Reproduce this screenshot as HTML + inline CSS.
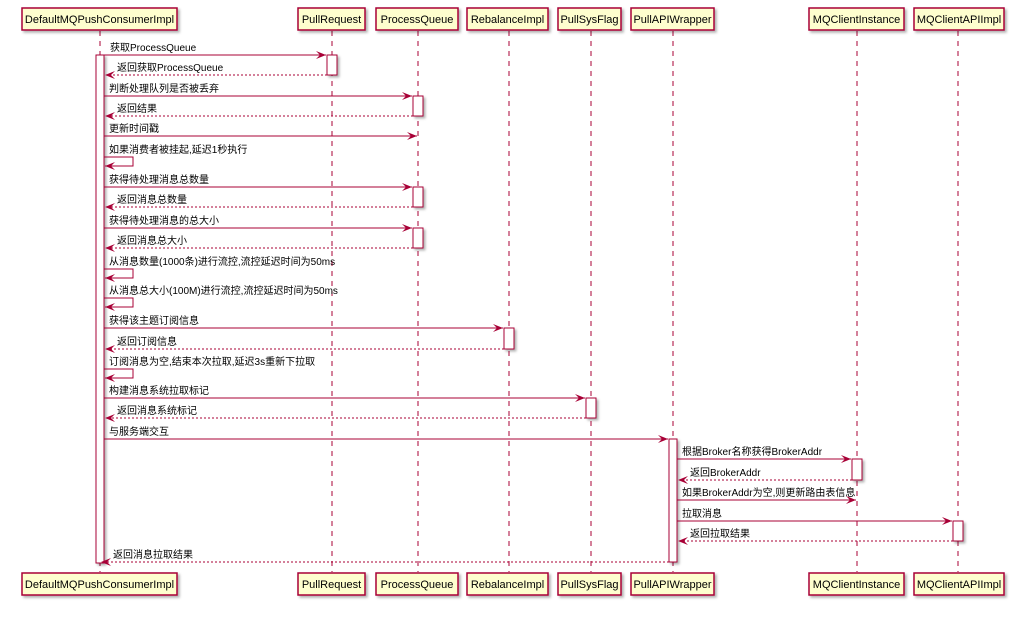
<!DOCTYPE html>
<html><head><meta charset="utf-8"><style>
html,body{margin:0;padding:0;background:#fff;}
svg text{font-family:"Liberation Sans","Noto Sans CJK SC",sans-serif;font-size:10px;fill:#000;}
.pt{font-size:11px;}
</style></head><body>
<svg width="1031" height="619" viewBox="0 0 1031 619" xmlns="http://www.w3.org/2000/svg">
<defs>
<filter id="sh" x="-10%" y="-10%" width="130%" height="150%"><feDropShadow dx="2" dy="2" stdDeviation="1.2" flood-color="#000" flood-opacity="0.3"/></filter>
</defs>
<g stroke="#A80036" stroke-width="1" stroke-dasharray="5,5" fill="none">
<line x1="100" y1="31" x2="100" y2="572"/>
<line x1="332" y1="31" x2="332" y2="572"/>
<line x1="418" y1="31" x2="418" y2="572"/>
<line x1="509" y1="31" x2="509" y2="572"/>
<line x1="591" y1="31" x2="591" y2="572"/>
<line x1="673" y1="31" x2="673" y2="572"/>
<line x1="857" y1="31" x2="857" y2="572"/>
<line x1="958" y1="31" x2="958" y2="572"/>
</g>
<g fill="#FEFECE" stroke="#A80036" stroke-width="1.5" filter="url(#sh)">
<rect x="22" y="8" width="155" height="22"/><rect x="298" y="8" width="67" height="22"/><rect x="376" y="8" width="82" height="22"/><rect x="467" y="8" width="81" height="22"/><rect x="558" y="8" width="63" height="22"/><rect x="631" y="8" width="83" height="22"/><rect x="809" y="8" width="95" height="22"/><rect x="914" y="8" width="90" height="22"/>
<rect x="22" y="573" width="155" height="22"/><rect x="298" y="573" width="67" height="22"/><rect x="376" y="573" width="82" height="22"/><rect x="467" y="573" width="81" height="22"/><rect x="558" y="573" width="63" height="22"/><rect x="631" y="573" width="83" height="22"/><rect x="809" y="573" width="95" height="22"/><rect x="914" y="573" width="90" height="22"/>
</g>
<g class="pt" text-anchor="middle">
<text class="pt" x="99.5" y="23">DefaultMQPushConsumerImpl</text><text class="pt" x="331.5" y="23">PullRequest</text><text class="pt" x="417" y="23">ProcessQueue</text><text class="pt" x="507.5" y="23">RebalanceImpl</text><text class="pt" x="589.5" y="23">PullSysFlag</text><text class="pt" x="672.5" y="23">PullAPIWrapper</text><text class="pt" x="856.5" y="23">MQClientInstance</text><text class="pt" x="959" y="23">MQClientAPIImpl</text>
<text class="pt" x="99.5" y="588">DefaultMQPushConsumerImpl</text><text class="pt" x="331.5" y="588">PullRequest</text><text class="pt" x="417" y="588">ProcessQueue</text><text class="pt" x="507.5" y="588">RebalanceImpl</text><text class="pt" x="589.5" y="588">PullSysFlag</text><text class="pt" x="672.5" y="588">PullAPIWrapper</text><text class="pt" x="856.5" y="588">MQClientInstance</text><text class="pt" x="959" y="588">MQClientAPIImpl</text>
</g>
<g fill="#fff" stroke="#A80036" stroke-width="1" filter="url(#sh)">
<rect x="96" y="55" width="8" height="508"/>
<rect x="327" y="55" width="10" height="20"/>
<rect x="413" y="96" width="10" height="20"/>
<rect x="413" y="187" width="10" height="20"/>
<rect x="413" y="228" width="10" height="20"/>
<rect x="504" y="328" width="10" height="21"/>
<rect x="586" y="398" width="10" height="20"/>
<rect x="669" y="439" width="8" height="123"/>
<rect x="852" y="459" width="10" height="21"/>
<rect x="953" y="521" width="10" height="20"/>
</g>
<g stroke="#A80036" stroke-width="1" fill="none">
<!-- calls -->
<line x1="104" y1="55" x2="326" y2="55"/>
<line x1="104" y1="96" x2="412" y2="96"/>
<line x1="104" y1="136" x2="417" y2="136"/>
<line x1="104" y1="187" x2="412" y2="187"/>
<line x1="104" y1="228" x2="412" y2="228"/>
<line x1="104" y1="328" x2="503" y2="328"/>
<line x1="104" y1="398" x2="585" y2="398"/>
<line x1="104" y1="439" x2="668" y2="439"/>
<line x1="677" y1="459" x2="851" y2="459"/>
<line x1="677" y1="500" x2="856" y2="500"/>
<line x1="677" y1="521" x2="952" y2="521"/>
<!-- self -->
<polyline points="104,157 133,157 133,166 105,166"/>
<polyline points="104,269 133,269 133,278 105,278"/>
<polyline points="104,298 133,298 133,307 105,307"/>
<polyline points="104,369 133,369 133,378 105,378"/>
</g>
<g stroke="#A80036" stroke-width="1" fill="none" stroke-dasharray="2,2">
<line x1="327" y1="75" x2="106" y2="75"/>
<line x1="413" y1="116" x2="106" y2="116"/>
<line x1="413" y1="207" x2="106" y2="207"/>
<line x1="413" y1="248" x2="106" y2="248"/>
<line x1="504" y1="349" x2="106" y2="349"/>
<line x1="586" y1="418" x2="106" y2="418"/>
<line x1="852" y1="480" x2="679" y2="480"/>
<line x1="953" y1="541" x2="679" y2="541"/>
<line x1="669" y1="562" x2="102" y2="562"/>
</g>
<g fill="#A80036">
<polygon points="326,55 316,51 320,55 316,59"/>
<polygon points="412,96 402,92 406,96 402,100"/>
<polygon points="417,136 407,132 411,136 407,140"/>
<polygon points="412,187 402,183 406,187 402,191"/>
<polygon points="412,228 402,224 406,228 402,232"/>
<polygon points="503,328 493,324 497,328 493,332"/>
<polygon points="585,398 575,394 579,398 575,402"/>
<polygon points="668,439 658,435 662,439 658,443"/>
<polygon points="851,459 841,455 845,459 841,463"/>
<polygon points="856,500 846,496 850,500 846,504"/>
<polygon points="952,521 942,517 946,521 942,525"/>
<polygon points="105,75 115,71 111,75 115,79"/>
<polygon points="105,116 115,112 111,116 115,120"/>
<polygon points="105,207 115,203 111,207 115,211"/>
<polygon points="105,248 115,244 111,248 115,252"/>
<polygon points="105,349 115,345 111,349 115,353"/>
<polygon points="105,418 115,414 111,418 115,422"/>
<polygon points="678,480 688,476 684,480 688,484"/>
<polygon points="678,541 688,537 684,541 688,545"/>
<polygon points="101,562 111,558 107,562 111,566"/>
<polygon points="105,166 115,162 111,166 115,170"/>
<polygon points="105,278 115,274 111,278 115,282"/>
<polygon points="105,307 115,303 111,307 115,311"/>
<polygon points="105,378 115,374 111,378 115,382"/>
</g>
<g>
<text x="110" y="51">获取ProcessQueue</text>
<text x="117" y="71">返回获取ProcessQueue</text>
<text x="109" y="92">判断处理队列是否被丢弃</text>
<text x="117" y="112">返回结果</text>
<text x="109" y="132">更新时间戳</text>
<text x="109" y="153">如果消费者被挂起,延迟1秒执行</text>
<text x="109" y="183">获得待处理消息总数量</text>
<text x="117" y="203">返回消息总数量</text>
<text x="109" y="224">获得待处理消息的总大小</text>
<text x="117" y="244">返回消息总大小</text>
<text x="109" y="265">从消息数量(1000条)进行流控,流控延迟时间为50ms</text>
<text x="109" y="294">从消息总大小(100M)进行流控,流控延迟时间为50ms</text>
<text x="109" y="324">获得该主题订阅信息</text>
<text x="117" y="345">返回订阅信息</text>
<text x="109" y="365">订阅消息为空,结束本次拉取,延迟3s重新下拉取</text>
<text x="109" y="394">构建消息系统拉取标记</text>
<text x="117" y="414">返回消息系统标记</text>
<text x="109" y="435">与服务端交互</text>
<text x="682" y="455">根据Broker名称获得BrokerAddr</text>
<text x="690" y="476">返回BrokerAddr</text>
<text x="682" y="496">如果BrokerAddr为空,则更新路由表信息</text>
<text x="682" y="517">拉取消息</text>
<text x="690" y="537">返回拉取结果</text>
<text x="113" y="558">返回消息拉取结果</text>
</g>
</svg>
</body></html>
